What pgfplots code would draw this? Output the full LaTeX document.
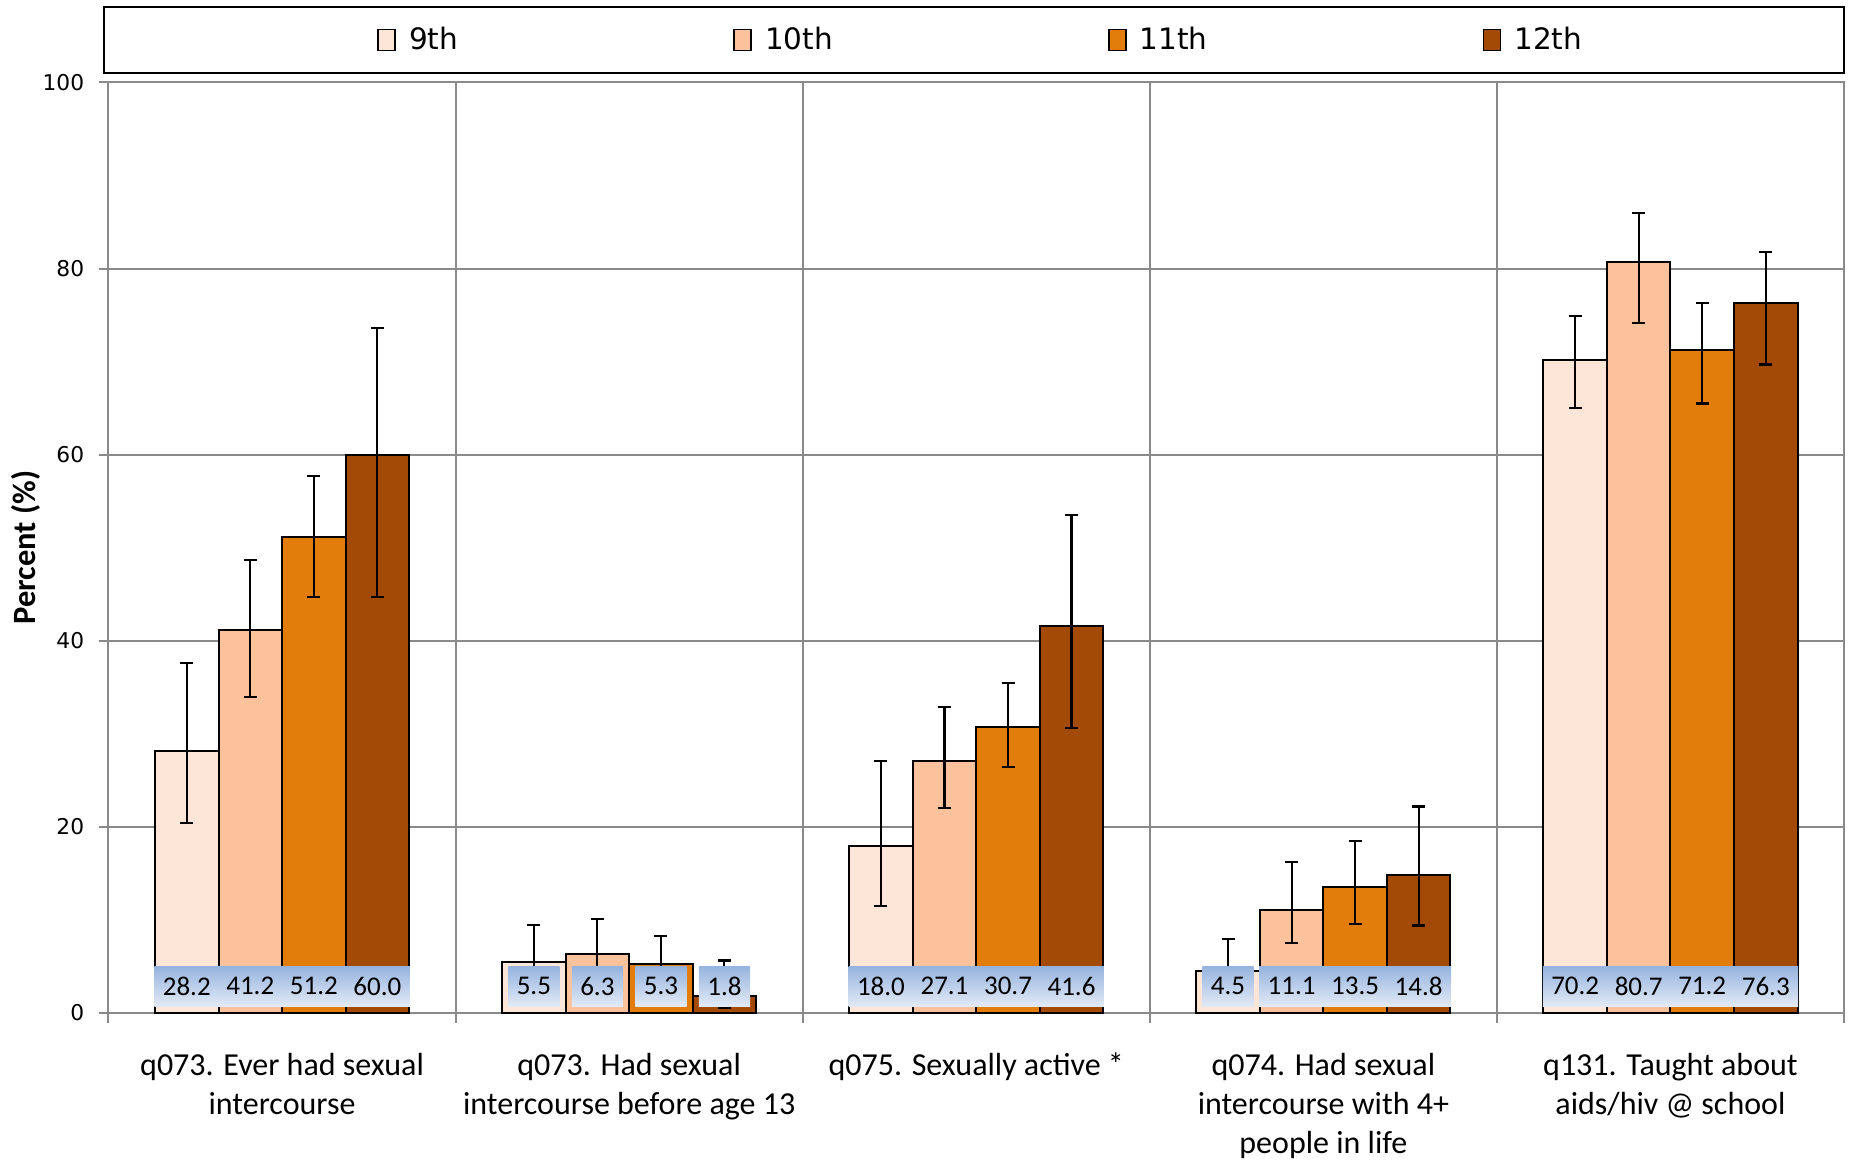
\documentclass[border=0pt]{standalone}
\usepackage{fontspec}
\setmainfont{Carlito}
\newfontfamily\dejavu{DejaVu Sans}
\usepackage{pgfplots}
\pgfplotsset{compat=1.18}
\usepackage{pgfplotstable}
\usetikzlibrary{shadings}

\definecolor{c9}{RGB}{253,229,216}
\definecolor{c10}{RGB}{251,194,155}
\definecolor{c11}{RGB}{226,124,10}
\definecolor{c12}{RGB}{164,74,7}
\definecolor{gridgray}{RGB}{138,138,138}
\definecolor{lbltop}{RGB}{149,179,222}
\definecolor{lblbot}{RGB}{226,234,246}

\pgfplotstableread{
x v9 p9 m9 v10 p10 m10 v11 p11 m11 v12 p12 m12
1 28.2 9.4 7.8 41.2 7.5 7.2 51.2 6.5 6.5 60.0 13.6 15.3
2 5.5 4.0 3.0 6.3 3.8 3.2 5.3 3.0 2.5 1.8 3.85 1.3
3 18.0 9.1 6.5 27.1 5.8 5.1 30.7 4.8 4.3 41.6 11.9 11.0
4 4.5 3.5 3.4 11.1 5.1 3.6 13.5 5.0 3.9 14.8 7.4 5.4
5 70.2 4.7 5.2 80.7 5.3 6.5 71.2 5.1 5.7 76.3 5.5 6.6
}\data

\pgfplotsset{
  mybar/.style={ybar, bar width=0.183, bar shift=0pt, draw=black, line width=0.8pt, fill=#1,
    legend image code/.code={\draw[##1, line width=0.7pt] (0pt,-4.2pt) rectangle (6.8pt,4.2pt); \path (10pt,0pt);},
    /pgfplots/error bars/y dir=both, /pgfplots/error bars/y explicit,
    /pgfplots/error bars/error bar style={line width=0.85pt, black},
    /pgfplots/error bars/error mark options={rotate=90, mark size=2.6pt, line width=0.85pt, black}},
  mylbl/.style={forget plot, draw=none, mark=none, point meta=explicit,
    nodes near coords={\pgfmathprintnumber[fixed,fixed zerofill,precision=1,assume math mode=true]{\pgfplotspointmeta}},
    every node near coord/.append style={anchor=center, text=black,
      font=\fontsize{10.8}{12}\selectfont, top color=lbltop, bottom color=lblbot,
      draw=none, inner xsep=3.4pt, inner ysep=0pt, minimum height=16pt}}
}

\begin{document}
\begin{tikzpicture}
\path[use as bounding box] (-43.4pt,-58.8pt) rectangle (697pt,405.2pt);
\begin{axis}[name=ax, at={(0,0)}, anchor=south west,
  scale only axis, width=694.2pt, height=372.2pt,
  xmin=0.5, xmax=5.5, ymin=0, ymax=100,
  axis line style={draw=gridgray, line width=0.8pt},
  xtick={0.5,1.5,2.5,3.5,4.5,5.5}, xticklabels={,,,,,},
  ytick={0,20,40,60,80,100},
  tick align=outside, xtick pos=left, ytick pos=left,
  major tick length=3.8pt,
  tick style={draw=gridgray, line width=0.8pt},
  xmajorgrids, ymajorgrids,
  major grid style={draw=gridgray, line width=0.8pt},
  yticklabel style={font=\dejavu\fontsize{8.7}{10}\selectfont, xshift=-2.4pt, /pgf/number format/assume math mode=true},
  extra x ticks={1,2,3,4,5},
  extra x tick labels={{q073. Ever had sexual\\intercourse},{q073. Had sexual\\intercourse before age 13},{q075. Sexually active *},{q074. Had sexual\\intercourse with 4+\\people in life},{q131. Taught about\\aids/hiv @ school}},
  extra x tick style={major tick length=0pt, grid=none,
    tick label style={font=\fontsize{12.8}{15.6}\selectfont, align=center, yshift=-12.4pt}},
  ylabel={\bfseries Percent (\%)},
  every axis y label/.style={at={(axis description cs:-0.0475,0.5)}, rotate=90, anchor=center, font=\fontsize{13}{15}\selectfont},
  legend columns=4,
  legend style={at={(axis description cs:0.5,1)}, anchor=center, yshift=17pt, xshift=2.4pt,
    draw=none, fill=none, font=\dejavu\fontsize{11.8}{13}\selectfont,
    /tikz/every even column/.append style={column sep=108pt}},
]
\addplot[mybar=c9] table[x expr=\thisrow{x}-0.2745, y=v9, y error plus=p9, y error minus=m9] {\data};
\addlegendentry{9th}
\addplot[mybar=c10] table[x expr=\thisrow{x}-0.0915, y=v10, y error plus=p10, y error minus=m10] {\data};
\addlegendentry{10th}
\addplot[mybar=c11] table[x expr=\thisrow{x}+0.0915, y=v11, y error plus=p11, y error minus=m11] {\data};
\addlegendentry{11th}
\addplot[mybar=c12] table[x expr=\thisrow{x}+0.2745, y=v12, y error plus=p12, y error minus=m12] {\data};
\addlegendentry{12th}
\addplot[mylbl] table[x expr=\thisrow{x}-0.2745, y expr=2.9, meta=v9] {\data};
\addplot[mylbl] table[x expr=\thisrow{x}-0.0915, y expr=2.9, meta=v10] {\data};
\addplot[mylbl] table[x expr=\thisrow{x}+0.0915, y expr=2.9, meta=v11] {\data};
\addplot[mylbl] table[x expr=\thisrow{x}+0.2745, y expr=2.9, meta=v12] {\data};
\end{axis}
\draw[black, line width=1pt] ([xshift=-1.84pt, yshift=3.84pt]ax.north west) rectangle ([yshift=30.24pt]ax.north east);
\end{tikzpicture}
\end{document}
